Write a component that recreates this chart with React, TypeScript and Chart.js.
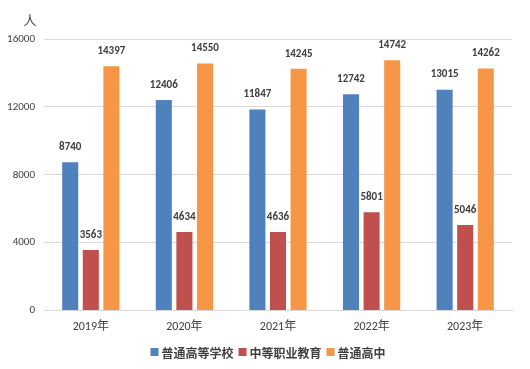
import React, { useEffect, useRef } from "react";
import { Chart, registerables } from "chart.js";

Chart.register(...registerables);

const categories = ["2019年", "2020年", "2021年", "2022年", "2023年"];
const seriesNames = ["普通高等学校", "中等职业教育", "普通高中"];
const seriesColors = ["#4F81BD", "#C0504D", "#F79646"];
const higherEd = [8740, 12406, 11847, 12742, 13015];
const vocational = [3563, 4634, 4636, 5801, 5046];
const highSchool = [14397, 14550, 14245, 14742, 14262];
const yTicks = [0, 4000, 8000, 12000, 16000];
const unitLabel = "人";

const FONT = "Calibri, Carlito, 'Liberation Sans', 'Noto Sans CJK SC', sans-serif";
const CJK = "'Noto Sans CJK SC', 'Microsoft YaHei', sans-serif";

const labelPlugin = {
  id: "barLabels",
  afterDatasetsDraw(chart: any) {
    const ctx = chart.ctx;
    ctx.save();
    ctx.font = `bold 11px ${FONT}`;
    ctx.fillStyle = "#404040";
    ctx.textAlign = "center";
    ctx.textBaseline = "middle";
    chart.data.datasets.forEach((ds: any, i: number) => {
      const meta = chart.getDatasetMeta(i);
      meta.data.forEach((bar: any, j: number) => {
        ctx.fillText(String(ds.data[j]), bar.x, bar.y - 15);
      });
    });
    // unit label
    ctx.font = `13px ${CJK}`;
    ctx.fillText(unitLabel, 30, 20);

    // custom legend
    ctx.font = `bold 12px ${CJK}`;
    const box = 8;
    const gapBoxText = 3;
    const gapItems = 5;
    const widths = seriesNames.map((n) => ctx.measureText(n).width);
    const total =
      widths.reduce((a, b) => a + b, 0) + seriesNames.length * (box + gapBoxText) + (seriesNames.length - 1) * gapItems;
    let x = 268 - total / 2;
    const y = 352;
    ctx.textAlign = "left";
    seriesNames.forEach((n, i) => {
      ctx.fillStyle = seriesColors[i];
      ctx.fillRect(x, y - box / 2, box, box);
      x += box + gapBoxText;
      ctx.fillStyle = "#404040";
      ctx.fillText(n, x, y + 1);
      x += widths[i] + gapItems;
    });
    ctx.restore();
  },
};

export default function App() {
  const ref = useRef<HTMLCanvasElement>(null);
  useEffect(() => {
    document.body.style.margin = "0";
    const chart = new Chart(ref.current!, {
      type: "bar",
      data: {
        labels: categories,
        datasets: [
          { label: seriesNames[0], data: higherEd, backgroundColor: seriesColors[0] },
          { label: seriesNames[1], data: vocational, backgroundColor: seriesColors[1] },
          { label: seriesNames[2], data: highSchool, backgroundColor: seriesColors[2] },
        ],
      },
      options: {
        animation: false,
        responsive: false,
        maintainAspectRatio: false,
        datasets: { bar: { categoryPercentage: 0.66, barPercentage: 0.78 } },
        layout: { padding: { top: 39, right: 18, bottom: 26, left: 0 } },
        plugins: {
          legend: { display: false },
          tooltip: { enabled: false },
        },
        scales: {
          x: {
            grid: { display: false, drawTicks: false },
            border: { color: "#D9D9D9" },
            ticks: { color: "#404040", padding: 9, font: { family: FONT + ", " + CJK, size: 12 } },
          },
          y: {
            min: 0,
            max: 16000,
            afterBuildTicks(scale: any) {
              scale.ticks = yTicks.map((v) => ({ value: v }));
            },
            afterFit(scale: any) {
              scale.width = 44;
            },
            grid: { color: "#D9D9D9", drawTicks: false },
            border: { display: false },
            ticks: {
              color: "#404040",
              padding: 9,
              font: { family: FONT, size: 11 },
              callback: (v: any) => String(v),
            },
          },
        },
      },
      plugins: [labelPlugin],
    });
    return () => chart.destroy();
  }, []);
  return (
    <div style={{ width: 530, height: 369 }}>
      <canvas ref={ref} width={530} height={369} style={{ display: "block" }} />
    </div>
  );
}
